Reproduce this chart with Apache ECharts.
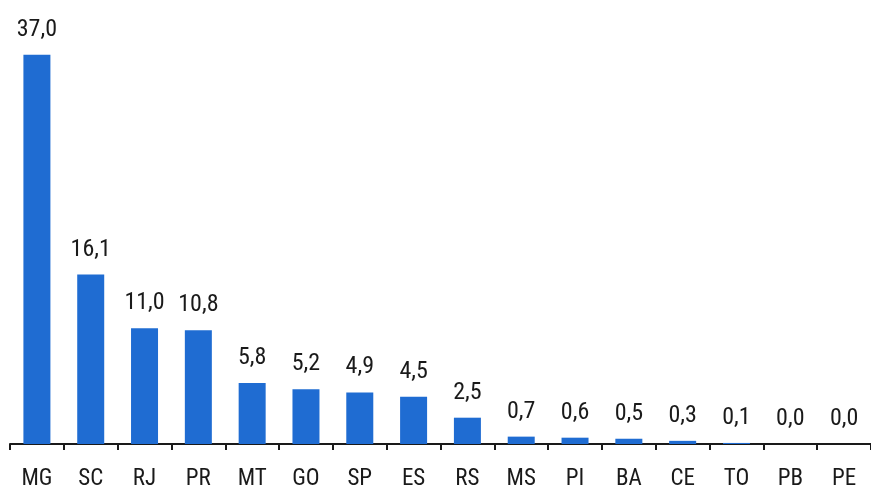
<!DOCTYPE html>
<html>
<head>
<meta charset="utf-8">
<script src="https://cdn.jsdelivr.net/npm/echarts@6/dist/echarts.min.js"></script>
<style>
  html, body { margin: 0; padding: 0; background: #ffffff; }
  #chart { width: 871px; height: 491px; }
</style>
</head>
<body>
<div id="chart"></div>
<script>
// Estados (siglas) e valores percentuais
const categories = ['MG', 'SC', 'RJ', 'PR', 'MT', 'GO', 'SP', 'ES', 'RS', 'MS', 'PI', 'BA', 'CE', 'TO', 'PB', 'PE'];
const values = [37.0, 16.1, 11.0, 10.8, 5.8, 5.2, 4.9, 4.5, 2.5, 0.7, 0.6, 0.5, 0.3, 0.1, 0.0, 0.0];

const fontFamily = '"Roboto Condensed", "DejaVu Sans Condensed", sans-serif';

const chart = echarts.init(document.getElementById('chart'));
chart.setOption({
  animation: false,
  grid: { left: 10, right: 0, top: 0, bottom: 46 },
  xAxis: {
    type: 'category',
    data: categories,
    axisLine: { lineStyle: { color: '#1a1a1a', width: 2 } },
    axisTick: { show: true, length: 6, lineStyle: { color: '#1a1a1a', width: 2 } },
    axisLabel: { color: '#1a1a1a', fontSize: 23, fontFamily: fontFamily, margin: 24 }
  },
  yAxis: {
    type: 'value',
    min: 0,
    max: 42.2,
    show: false,
    splitLine: { show: false }
  },
  series: [{
    type: 'bar',
    data: values,
    barWidth: 27,
    itemStyle: { color: '#1f6cd2' },
    label: {
      show: true,
      position: 'top',
      distance: 13,
      color: '#1a1a1a',
      fontSize: 24,
      fontFamily: fontFamily,
      formatter: p => p.value.toFixed(1).replace('.', ',')
    }
  }]
});
</script>
</body>
</html>
